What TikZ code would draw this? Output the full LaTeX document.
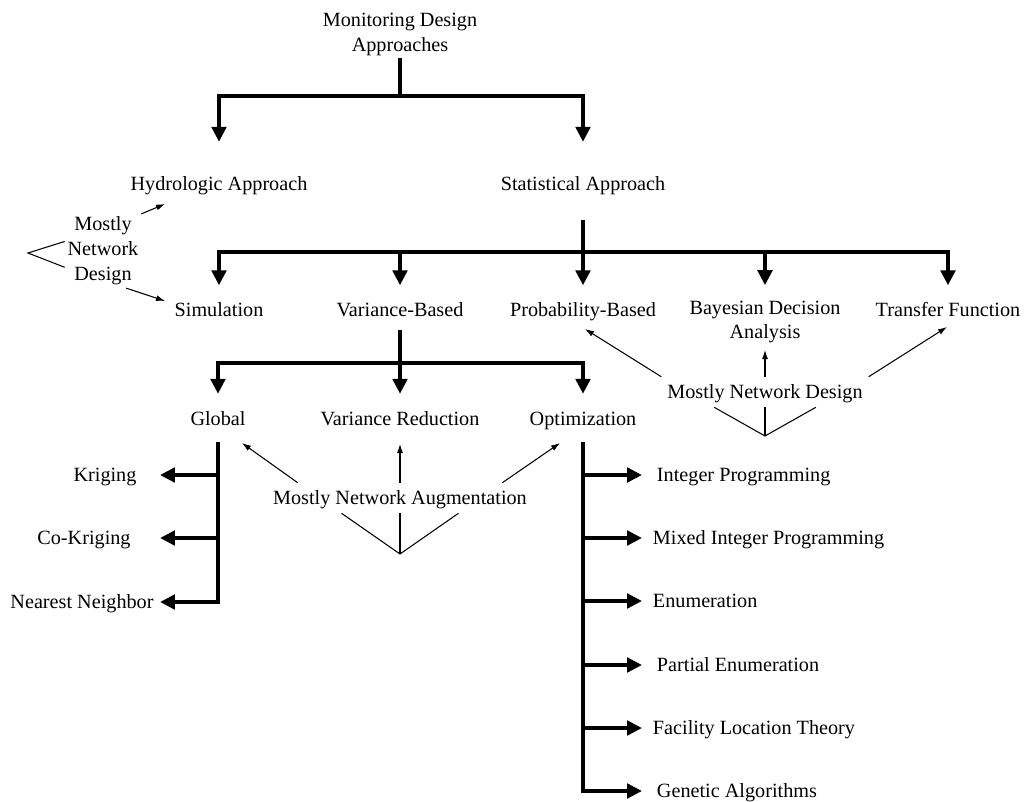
\documentclass[tikz,border=0pt]{standalone}
\usepackage{fontspec}
\setmainfont{Liberation Serif}
\usetikzlibrary{arrows.meta,calc}
\newcommand{\txtsize}{\fontsize{11.5}{14.2}\selectfont}
\tikzstyle{lbl}=[inner sep=1.5pt, text height=9pt, text depth=1.5pt, font=\txtsize]
\tikzstyle{lbltwo}=[inner sep=1.5pt, align=center, font=\txtsize]
\tikzstyle{remark}=[lbl, inner sep=3.25pt]
\tikzstyle{bar}=[line width=0.08cm]
\tikzstyle{tree}=[bar, -{Triangle[width=0.29cm,length=0.3cm]}]
\tikzstyle{note}=[line width=0.6pt, -{Latex[length=0.18cm,width=0.12cm]}]
\tikzstyle{fan}=[line width=0.6pt]

\begin{document}
\begin{tikzpicture}[x=0.02cm,y=-0.02cm]
  \useasboundingbox (0,0) rectangle (1024,801);
  \node[lbltwo] (mda) at (400,34) {Monitoring Design\\Approaches};
  \node[lbl] (hyd) at (219,184) {Hydrologic Approach};
  \node[lbl] (stat) at (583,184) {Statistical Approach};
  \node[lbl] (sim) at (219,310) {Simulation};
  \node[lbl] (vb) at (400,310) {Variance-Based};
  \node[lbl] (pb) at (583,310) {Probability-Based};
  \node[lbltwo] (bda) at (765,322) {Bayesian Decision\\Analysis};
  \node[lbl] (tf) at (948,310) {Transfer Function};
  \node[lbl] (glob) at (218,419) {Global};
  \node[lbl] (vr) at (400,419) {Variance Reduction};
  \node[lbl] (opt) at (583,419) {Optimization};
  % global methods
  \node[lbl] (krig) at (105,475) {Kriging};
  \node[lbl] (ck) at (84,538) {Co-Kriging};
  \node[lbl] (nn) at (82,602) {Nearest Neighbor};
  % optimization methods
  \node[lbl,anchor=west] (ip) at (654,475) {Integer Programming};
  \node[lbl,anchor=west] (mip) at (650,538) {Mixed Integer Programming};
  \node[lbl,anchor=west] (en) at (650,601) {Enumeration};
  \node[lbl,anchor=west] (pen) at (654,665) {Partial Enumeration};
  \node[lbl,anchor=west] (flt) at (650,728) {Facility Location Theory};
  \node[lbl,anchor=west] (ga) at (654,791) {Genetic Algorithms};
  % remarks
  \node[lbltwo] (mnd) at (103,251) {Mostly\\Network\\Design};
  \node[remark] (mna) at (400,498) {Mostly Network Augmentation};
  \node[remark] (mndr) at (765,392) {Mostly Network Design};

  \coordinate (b1) at (400,96);
  \coordinate (b2) at (583,252);
  \coordinate (b3) at (400,363);
  \coordinate (gtip) at (160,602);
  \coordinate (otip) at (642,791);

  \draw[bar] (mda) -- (b1);
  \draw[tree, shorten >=0.6cm] (b1) -| (hyd);
  \draw[tree, shorten >=0.6cm] (b1) -| (stat);

  \draw[bar, shorten <=0.48cm] (stat) -- (b2);
  \foreach \n in {sim,vb,pb,bda,tf}
    \draw[tree, shorten >=0.25cm] (b2) -| (\n);

  \draw[bar, shorten <=0.16cm] (vb) -- (b3);
  \foreach \n in {glob,vr,opt}
    \draw[tree, shorten >=0.26cm] (b3) -| (\n);

  \draw[tree, shorten <=0.22cm] (glob) |- (nn -| gtip);
  \draw[tree] (glob |- krig) -- (krig -| gtip);
  \draw[tree] (glob |- ck) -- (ck -| gtip);

  \draw[tree, shorten <=0.22cm] (opt) |- (ga -| otip);
  \foreach \n in {ip,mip,en,pen,flt}
    \draw[tree] (opt |- \n) -- (\n -| otip);

  % thin remark arrows
  \coordinate (toHyd) at (165,204);
  \coordinate (toSim) at (165,301);
  \coordinate (lv) at (28,253);
  \draw[note] (mnd.north east) -- (toHyd);
  \draw[note] (mnd.-58) -- (toSim);
  \draw[fan] (mnd.166) -- (lv) -- (mnd.203);

  \coordinate (toGlob) at (242,443);
  \coordinate (toVR) at (400,444);
  \coordinate (toOpt) at (560,443);
  \coordinate (mnav) at (400,554);
  \draw[note] ($(mna.north)!0.77!(mna.north west)$) -- (toGlob);
  \draw[note] (mna.north) -- (toVR);
  \draw[note] ($(mna.north)!0.77!(mna.north east)$) -- (toOpt);
  \draw[fan] ($(mna.south)!0.44!(mna.south west)$) -- (mnav) -- ($(mna.south)!0.44!(mna.south east)$);
  \draw[fan] (mna.south) -- (mnav);

  \coordinate (toPB) at (585,329);
  \coordinate (toBDA) at (765,350);
  \coordinate (toTF) at (947,327);
  \coordinate (mndv) at (765,436);
  \draw[note] (mndr.north west) -- (toPB);
  \draw[note] (mndr.north) -- (toBDA);
  \draw[note] (mndr.north east) -- (toTF);
  \draw[fan] ($(mndr.south)!0.49!(mndr.south west)$) -- (mndv) -- ($(mndr.south)!0.49!(mndr.south east)$);
  \draw[fan] (mndr.south) -- (mndv);
\end{tikzpicture}
\end{document}
